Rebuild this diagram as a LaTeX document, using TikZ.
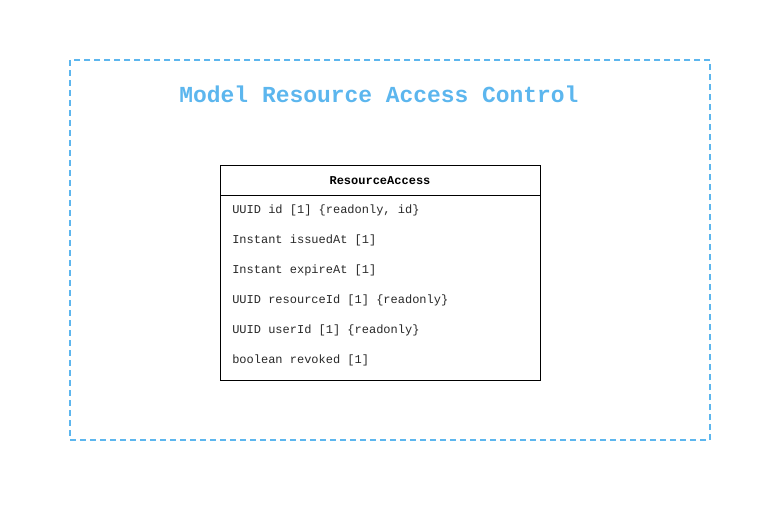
\documentclass[tikz,border=0pt]{standalone}
\usepackage{fontspec}
\setmonofont{Liberation Mono}
\definecolor{pkgblue}{RGB}{92,182,238}
\definecolor{txtgray}{RGB}{40,40,40}
\begin{document}
\begin{tikzpicture}[x=0.75pt,y=-0.75pt,
  pkg/.style={draw=pkgblue,line width=1.5pt,dash pattern=on 4.5pt off 3pt},
  cls/.style={draw=black,line width=0.75pt},
  attr/.style={anchor=west,inner sep=0pt,text=txtgray,font=\ttfamily\fontsize{9}{11}\selectfont},
  ttl/.style={inner sep=0pt,text=pkgblue,font=\ttfamily\bfseries\fontsize{17.2}{20}\selectfont}]
\useasboundingbox (0,0) rectangle (780,510);
\draw[pkg] (70,60) rectangle (710,440);
\node[ttl] (title) at (379,94.5) {Model Resource Access Control};
\draw[cls] (220,165) rectangle (540,380);
\draw[cls] (220,195) -- (540,195);
\node[inner sep=0pt,font=\ttfamily\bfseries\fontsize{9}{11}\selectfont] (hdr) at (380,180.5) {ResourceAccess};
\node[attr] (a1) at (232,210.5) {UUID id [1] \{readonly, id\}};
\node[attr] (a2) at (232,240.5) {Instant issuedAt [1]};
\node[attr] (a3) at (232,270.5) {Instant expireAt [1]};
\node[attr] (a4) at (232,300.5) {UUID resourceId [1] \{readonly\}};
\node[attr] (a5) at (232,330.5) {UUID userId [1] \{readonly\}};
\node[attr] (a6) at (232,360.5) {boolean revoked [1]};
\end{tikzpicture}
\end{document}
